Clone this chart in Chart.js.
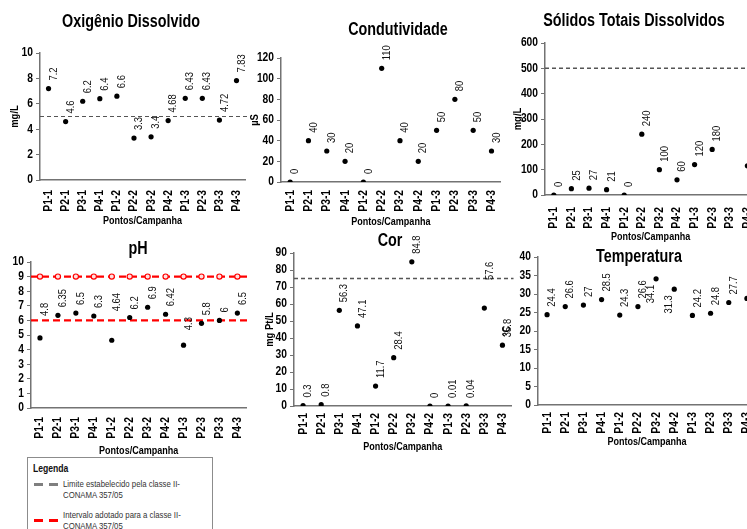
<!DOCTYPE html>
<html>
<head>
<meta charset="utf-8">
<script src="https://cdn.jsdelivr.net/npm/chart.js@4.4.0/dist/chart.umd.min.js"></script>
<style>
  body { margin:0; width:747px; height:529px; overflow:hidden; background:#fff; position:relative;
         font-family:"Liberation Sans Narrow","Arial Narrow","Liberation Sans",Arial,sans-serif; }
  canvas { position:absolute; }
  #legenda { position:absolute; left:27px; top:457px; width:184px; height:90px; border:1px solid #8c8c8c; background:#fff; }
  #legenda .tit { position:absolute; left:5px; top:4px; font-size:10.5px; font-weight:bold; color:#111;
                  transform:scaleX(0.82); transform-origin:left top; }
  #legenda .txt { position:absolute; left:35px; font-size:9.5px; line-height:11px; color:#333; white-space:nowrap;
                  transform:scaleX(0.82); transform-origin:left top; }
  #legenda .dash { position:absolute; height:3px; width:9px; }
</style>
</head>
<body>
<div id="legenda">
  <div class="tit">Legenda</div>
  <div class="dash" style="left:6px;top:25px;background:#7f7f7f"></div>
  <div class="dash" style="left:21px;top:25px;background:#7f7f7f"></div>
  <div class="txt" style="top:20px">Limite estabelecido pela classe II-<br>CONAMA 357/05</div>
  <div class="dash" style="left:6px;top:61px;background:#ff0000"></div>
  <div class="dash" style="left:21px;top:61px;background:#ff0000"></div>
  <div class="txt" style="top:51px">Intervalo adotado para a classe II-<br>CONAMA 357/05</div>
</div>
<script>
const FAM = '"Liberation Sans Narrow","Arial Narrow","Liberation Sans",Arial,sans-serif';
Chart.defaults.font.family = FAM;

// no narrow font here, so squeeze canvas text along its own direction
const NARROW = 0.82;
const fillTextOrig = CanvasRenderingContext2D.prototype.fillText;
CanvasRenderingContext2D.prototype.fillText = function (text, x, y, maxWidth) {
  this.save();
  this.translate(x, y);
  this.scale(NARROW, 1);
  if (maxWidth === undefined) fillTextOrig.call(this, text, 0, 0);
  else fillTextOrig.call(this, text, 0, 0, maxWidth / NARROW);
  this.restore();
};

// pontos de coleta / campanha
const campanhas = ['P1-1','P2-1','P3-1','P4-1','P1-2','P2-2','P3-2','P4-2','P1-3','P2-3','P3-3','P4-3'];

// valores medidos
const oxigenio      = [7.2, 4.6, 6.2, 6.4, 6.6, 3.3, 3.4, 4.68, 6.43, 6.43, 4.72, 7.83];
const condutividade = [0, 40, 30, 20, 0, 110, 40, 20, 50, 80, 50, 30];
const solidos       = [0, 25, 27, 21, 0, 240, 100, 60, 120, 180, null, 115];
const ph            = [4.8, 6.35, 6.5, 6.3, 4.64, 6.2, 6.9, 6.42, 4.3, 5.8, 6, 6.5];
const cor           = [0.3, 0.8, 56.3, 47.1, 11.7, 28.4, 84.8, 0, 0.01, 0.04, 57.6, 35.8];
const temperatura   = [24.4, 26.6, 27, 28.5, 24.3, 26.6, 34.1, 31.3, 24.2, 24.8, 27.7, 28.8];

// limites CONAMA 357/05 classe II
const limiteOD = 5;
const limiteSTD = 500;
const limiteCor = 75;
const phMin = 6;
const phMax = 9;
const phMaxMarcas = [9, 9, 9, 9, 9, 9, 9, 9, 9, 9, 9, 9];

const AXIS = '#737373';
const CINZA = { color: '#555', width: 1.2, dash: [4, 3] };
const VERMELHO = { color: '#ff0000', width: 2.4, dash: [7, 4] };

// linhas de referencia em toda a largura do grafico
const refLines = {
  id: 'refLines',
  beforeDatasetsDraw(chart, args, opts) {
    const { ctx, chartArea, scales: { y } } = chart;
    (opts.lines || []).forEach(l => {
      const py = y.getPixelForValue(l.value);
      ctx.save();
      ctx.strokeStyle = l.color;
      ctx.lineWidth = l.width;
      ctx.setLineDash(l.dash);
      ctx.beginPath();
      ctx.moveTo(chartArea.left, py);
      ctx.lineTo(chartArea.right + 2, py);
      ctx.stroke();
      ctx.restore();
    });
  }
};

// rotulos verticais dos valores
const valueLabels = {
  id: 'valueLabels',
  afterDatasetsDraw(chart, args, opts) {
    const { ctx } = chart;
    const meta = chart.getDatasetMeta(0);
    const values = chart.data.datasets[0].data;
    const below = opts.below || [];
    const lift = opts.lift || {};
    ctx.save();
    ctx.font = '11.5px ' + FAM;
    ctx.fillStyle = '#111';
    ctx.textBaseline = 'middle';
    meta.data.forEach((pt, i) => {
      const v = values[i];
      if (v === null || v === undefined) return;
      ctx.save();
      if (below.includes(i)) {
        ctx.translate(pt.x - 5, pt.y + 6);
        ctx.rotate(-Math.PI / 2);
        ctx.textAlign = 'right';
      } else {
        ctx.translate(pt.x + 5, pt.y - 8 - (lift[i] || 0));
        ctx.rotate(-Math.PI / 2);
        ctx.textAlign = 'left';
      }
      ctx.fillText(String(v), 0, 0);
      ctx.restore();
    });
    ctx.restore();
  }
};

const panelTitle = {
  id: 'panelTitle',
  afterDraw(chart, args, opts) {
    const { ctx } = chart;
    ctx.save();
    ctx.font = 'bold 17.5px ' + FAM;
    ctx.fillStyle = '#000';
    ctx.textAlign = 'center';
    ctx.textBaseline = 'middle';
    ctx.fillText(opts.text, opts.x, opts.y);
    ctx.restore();
  }
};

Chart.register(refLines, valueLabels, panelTitle);

const legenda = document.getElementById('legenda');

function painel(p) {
  const [bx, by, bw, bh] = p.box;
  const [l, t, r, b] = p.area;
  const cv = document.createElement('canvas');
  cv.width = bw; cv.height = bh;
  cv.style.left = bx + 'px';
  cv.style.top = by + 'px';
  document.body.insertBefore(cv, legenda);

  const datasets = [{
    data: p.values,
    showLine: false,
    pointRadius: 2.6,
    pointBackgroundColor: '#000',
    pointBorderColor: '#000',
    pointBorderWidth: 0
  }];
  if (p.markers) {
    datasets.push({
      data: p.markers,
      showLine: false,
      pointRadius: 2.6,
      pointBackgroundColor: '#ffe0e0',
      pointBorderColor: '#ff0000',
      pointBorderWidth: 1.2
    });
  }

  new Chart(cv, {
    type: 'line',
    data: { labels: campanhas, datasets },
    options: {
      responsive: false,
      animation: false,
      devicePixelRatio: 1,
      layout: { padding: { left: 0, top: t - by, right: bx + bw - r, bottom: 0 } },
      plugins: {
        legend: { display: false },
        tooltip: { enabled: false },
        refLines: { lines: p.lines || [] },
        valueLabels: { below: p.below || [], lift: p.lift || {} },
        panelTitle: { text: p.title, x: p.titlePos[0] - bx, y: p.titlePos[1] - by }
      },
      scales: {
        x: {
          type: 'category',
          offset: true,
          grid: { display: false, drawTicks: false },
          border: { display: true, color: AXIS, width: 1.5 },
          ticks: { autoSkip: false, minRotation: 90, maxRotation: 90, padding: p.xPad, color: '#000',
                   font: { size: 12.5, weight: 'bold' } },
          title: { display: true, text: 'Pontos/Campanha', color: '#000',
                   font: { size: 11, weight: 'bold' }, padding: { top: 0, bottom: p.xTitlePad } },
          afterFit(s) { s.height = by + bh - b; }
        },
        y: {
          min: p.min, max: p.max,
          grid: { display: true, drawOnChartArea: false, drawTicks: true, tickLength: 4, color: AXIS },
          border: { display: true, color: AXIS, width: 1.5 },
          ticks: { stepSize: p.step, autoSkip: false, padding: 3, color: '#000',
                   font: { size: 12.5, weight: 'bold' } },
          title: { display: !!p.yTitle, text: p.yTitle || '', color: '#000',
                   font: { size: 11.5, weight: 'bold' }, padding: { top: p.yTitlePad || 0, bottom: 0 } },
          afterFit(s) { s.width = l - bx; }
        }
      }
    }
  });
}

painel({ box: [0, 0, 262, 235], area: [40, 53, 250, 180], values: oxigenio, min: 0, max: 10, step: 2,
         title: 'Oxigênio Dissolvido', titlePos: [131, 22], yTitle: 'mg/L', yTitlePad: 8,
         xPad: 10, xTitlePad: 7, lines: [Object.assign({ value: limiteOD }, CINZA)] });

painel({ box: [245, 0, 270, 235], area: [281, 58, 503, 182], values: condutividade, min: 0, max: 120, step: 20,
         title: 'Condutividade', titlePos: [398, 30], yTitle: 'µS', yTitlePad: 3,
         xPad: 8, xTitlePad: 6 });

painel({ box: [500, 0, 275, 245], area: [545, 43, 760, 195], values: solidos, min: 0, max: 600, step: 100,
         title: 'Sólidos Totais Dissolvidos', titlePos: [634, 21], yTitle: 'mg/L', yTitlePad: 11,
         xPad: 12, xTitlePad: 1, lines: [Object.assign({ value: limiteSTD }, CINZA, { width: 1.5 })] });

painel({ box: [0, 235, 262, 225], area: [31, 262, 247, 408], values: ph, min: 0, max: 10, step: 1,
         title: 'pH', titlePos: [138, 249], xPad: 9, xTitlePad: 2,
         markers: phMaxMarcas, lift: { 0: 14, 4: 21, 8: 7 },
         lines: [Object.assign({ value: phMax }, VERMELHO), Object.assign({ value: phMin }, VERMELHO)] });

painel({ box: [250, 232, 275, 225], area: [294, 253, 512, 406], values: cor, min: 0, max: 90, step: 10,
         title: 'Cor', titlePos: [390, 241], yTitle: 'mg Pt/L', yTitlePad: 13,
         xPad: 7, xTitlePad: 3, lift: { 10: 20 },
         lines: [Object.assign({ value: limiteCor }, CINZA, { width: 1.5 })] });

painel({ box: [495, 232, 275, 225], area: [538, 257, 756, 405], values: temperatura, min: 0, max: 40, step: 5,
         title: 'Temperatura', titlePos: [639, 257], yTitle: '°C', yTitlePad: 5,
         xPad: 7, xTitlePad: 8, below: [6, 7] });
</script>
</body>
</html>
